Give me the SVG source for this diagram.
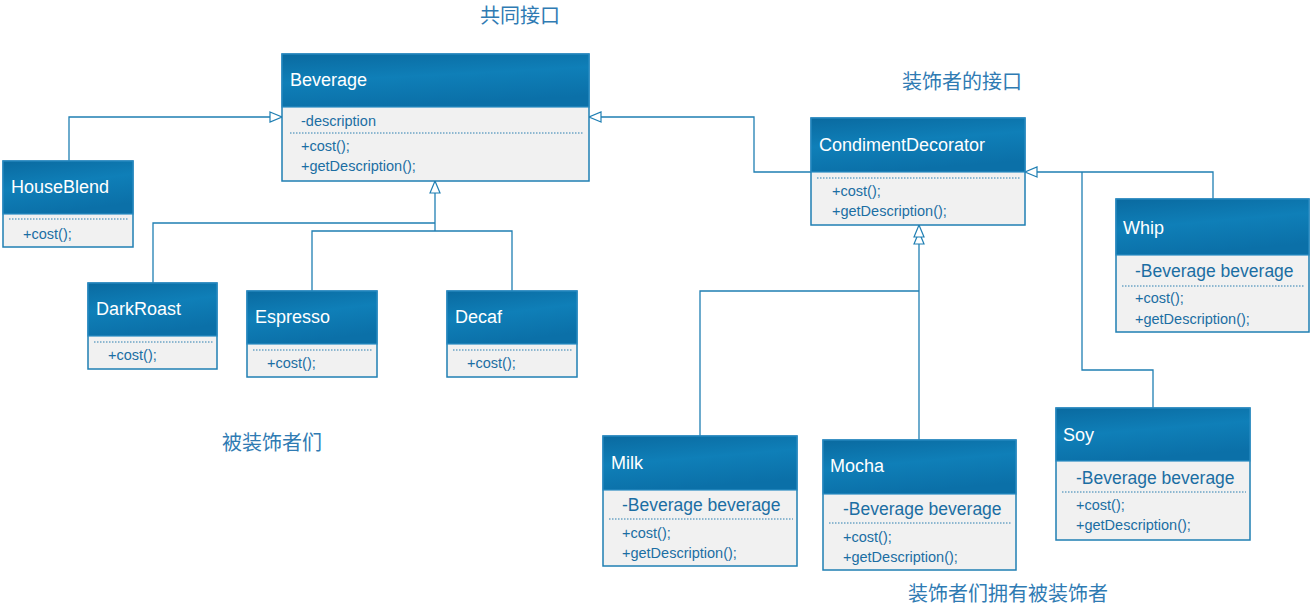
<svg xmlns="http://www.w3.org/2000/svg" width="1311" height="614" viewBox="0 0 1311 614">
<defs>
<linearGradient id="hg" x1="0" y1="0" x2="0.3" y2="1">
<stop offset="0" stop-color="#0a6aa0"/>
<stop offset="0.5" stop-color="#0f7fb8"/>
<stop offset="1" stop-color="#0b70a8"/>
</linearGradient>
<marker id="tri" viewBox="0 0 14 12" refX="13" refY="6" markerWidth="14" markerHeight="12" markerUnits="userSpaceOnUse" orient="auto">
<path d="M1,1 L13,6 L1,11 Z" fill="#fff" stroke="#1f7fb3" stroke-width="1.2"/>
</marker>
</defs>
<style>
.hdr{fill:url(#hg);stroke:#2b8cc4;stroke-width:1.2}
.bdy{fill:#f1f1f1;stroke:#1f7fb3;stroke-width:1.5}
.t{font-family:"Liberation Sans",Arial,sans-serif;fill:#fff;font-size:18px}
.m{font-family:"Liberation Sans",Arial,sans-serif;fill:#1b6ea3;font-size:14.5px}
.a{font-family:"Liberation Sans",Arial,sans-serif;fill:#1b6ea3;font-size:17.5px}
.dot{stroke:#2a7fb0;stroke-width:1;stroke-dasharray:1.5 1.5}
.c{fill:none;stroke:#1f7fb3;stroke-width:1.3}
.lbl{font-family:"Noto Sans CJK SC",sans-serif;fill:#2f7bb3;font-size:20px}
</style>
<rect width="1311" height="614" fill="#fff"/>
<g id="connectors">
<polyline class="c" points="69,161 69,117 282,117" marker-end="url(#tri)"/>
<polyline class="c" points="153,283 153,223 435,223"/>
<polyline class="c" points="312,291 312,231 512,231 512,291"/>
<polyline class="c" points="435,231 435,181" marker-end="url(#tri)"/>
<polyline class="c" points="811,172 754,172 754,117 589,117" marker-end="url(#tri)"/>
<polyline class="c" points="1213,199 1213,172 1025,172" marker-end="url(#tri)"/>
<polyline class="c" points="1153,408 1153,370 1082,370 1082,172"/>
<polyline class="c" points="700,436 700,291 919,291"/>
<polyline class="c" points="919,440 919,232" marker-end="url(#tri)"/>
<polyline class="c" points="919,232 919,225" marker-end="url(#tri)"/>
</g>
<g id="lbl1"><text class="lbl" x="520" y="23" text-anchor="middle">共同接口</text></g>
<g id="lbl2"><text class="lbl" x="962" y="89" text-anchor="middle">装饰者的接口</text></g>
<g id="lbl3"><text class="lbl" x="272" y="450" text-anchor="middle">被装饰者们</text></g>
<g id="lbl4"><text class="lbl" x="1008" y="601" text-anchor="middle">装饰者们拥有被装饰者</text></g>
<g id="Beverage">
<rect class="bdy" x="282" y="54" width="307" height="127"/>
<rect class="hdr" x="282" y="54" width="307" height="53"/>
<text class="t" x="290" y="86">Beverage</text>
<text class="m" x="301" y="126">-description</text>
<line class="dot" x1="290" y1="133" x2="583" y2="133"/>
<text class="m" x="301" y="151">+cost();</text>
<text class="m" x="301" y="171">+getDescription();</text>
</g>
<g id="HouseBlend">
<rect class="bdy" x="3" y="161" width="130" height="86"/>
<rect class="hdr" x="3" y="161" width="130" height="53"/>
<text class="t" x="11" y="193">HouseBlend</text>
<line class="dot" x1="9" y1="219" x2="129" y2="219"/>
<text class="m" x="23" y="239">+cost();</text>
</g>
<g id="DarkRoast">
<rect class="bdy" x="88" y="283" width="129" height="86"/>
<rect class="hdr" x="88" y="283" width="129" height="53"/>
<text class="t" x="96" y="315">DarkRoast</text>
<line class="dot" x1="94" y1="342" x2="213" y2="342"/>
<text class="m" x="108" y="360">+cost();</text>
</g>
<g id="Espresso">
<rect class="bdy" x="247" y="291" width="130" height="86"/>
<rect class="hdr" x="247" y="291" width="130" height="53"/>
<text class="t" x="255" y="323">Espresso</text>
<line class="dot" x1="253" y1="350" x2="373" y2="350"/>
<text class="m" x="267" y="368">+cost();</text>
</g>
<g id="Decaf">
<rect class="bdy" x="447" y="291" width="130" height="86"/>
<rect class="hdr" x="447" y="291" width="130" height="53"/>
<text class="t" x="455" y="323">Decaf</text>
<line class="dot" x1="453" y1="350" x2="573" y2="350"/>
<text class="m" x="467" y="368">+cost();</text>
</g>
<g id="CondimentDecorator">
<rect class="bdy" x="811" y="118" width="214" height="107"/>
<rect class="hdr" x="811" y="118" width="214" height="54"/>
<text class="t" x="819" y="151">CondimentDecorator</text>
<line class="dot" x1="817" y1="178" x2="1021" y2="178"/>
<text class="m" x="832" y="196">+cost();</text>
<text class="m" x="832" y="216">+getDescription();</text>
</g>
<g id="Whip">
<rect class="bdy" x="1116" y="199" width="193" height="133"/>
<rect class="hdr" x="1116" y="199" width="193" height="56"/>
<text class="t" x="1123" y="234">Whip</text>
<text class="a" x="1135" y="277">-Beverage beverage</text>
<line class="dot" x1="1122" y1="286" x2="1305" y2="286"/>
<text class="m" x="1135" y="303">+cost();</text>
<text class="m" x="1135" y="324">+getDescription();</text>
</g>
<g id="Soy">
<rect class="bdy" x="1056" y="408" width="194" height="132"/>
<rect class="hdr" x="1056" y="408" width="194" height="53"/>
<text class="t" x="1063" y="441">Soy</text>
<text class="a" x="1076" y="484">-Beverage beverage</text>
<line class="dot" x1="1062" y1="492" x2="1246" y2="492"/>
<text class="m" x="1076" y="510">+cost();</text>
<text class="m" x="1076" y="530">+getDescription();</text>
</g>
<g id="Milk">
<rect class="bdy" x="603" y="436" width="194" height="130"/>
<rect class="hdr" x="603" y="436" width="194" height="54"/>
<text class="t" x="611" y="469">Milk</text>
<text class="a" x="622" y="511">-Beverage beverage</text>
<line class="dot" x1="609" y1="519" x2="793" y2="519"/>
<text class="m" x="622" y="538">+cost();</text>
<text class="m" x="622" y="558">+getDescription();</text>
</g>
<g id="Mocha">
<rect class="bdy" x="823" y="440" width="193" height="130"/>
<rect class="hdr" x="823" y="440" width="193" height="54"/>
<text class="t" x="830" y="472">Mocha</text>
<text class="a" x="843" y="515">-Beverage beverage</text>
<line class="dot" x1="829" y1="523" x2="1012" y2="523"/>
<text class="m" x="843" y="542">+cost();</text>
<text class="m" x="843" y="562">+getDescription();</text>
</g>
</svg>
